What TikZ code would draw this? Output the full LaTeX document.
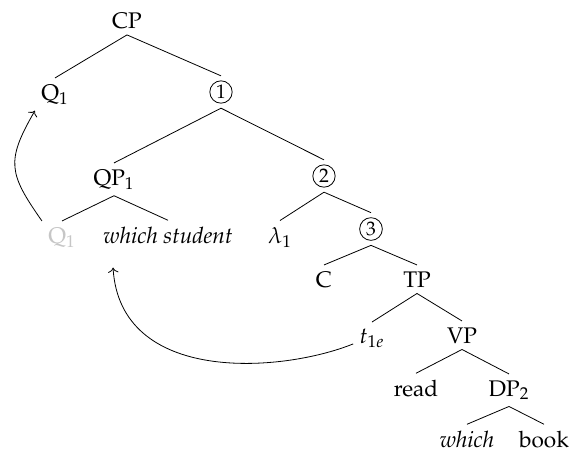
\documentclass[tikz,border=0pt]{standalone}
\usepackage[T1]{fontenc}
\usepackage{mathpazo}
\usetikzlibrary{arrows.meta,positioning}

\begin{document}
\begin{tikzpicture}[x=0.5pt, y=0.5pt,
        font=\fontsize{11.3}{13.5}\selectfont,
        cat/.style={anchor=base, inner sep=3pt},
        circ/.style={draw, circle, inner sep=1pt, outer sep=2.5pt, font=\fontsize{9.8}{11}\selectfont},
        ghost/.style={cat, text=gray!45},
        branch/.style={thin},
        move/.style={->, thin}
    ]
    \useasboundingbox (0,0) rectangle (573,-452);

    \node[cat] (cp) at (127,-28) {CP};
    \node[cat] (q1) at (55,-100) {Q$_1$};
    \node[circ] (one) at (221,-92) {1};
    \node[cat] (qp) at (114,-185) {QP$_1$};
    \node[circ] (two) at (324,-176) {2};
    \node[ghost] (q1low) at (62,-243) {Q$_1$};
    \node[cat] (ws) at (168,-243) {\textit{which student}};
    \node[cat] (lam) at (280,-243) {$\lambda_1$};
    \node[circ] (three) at (371,-229) {3};
    \node[cat] (c) at (324,-287) {C};
    \node[cat] (tp) at (417,-287) {TP};
    \node[cat] (t) at (372,-343) {$t_{1e}$};
    \node[cat] (vp) at (462,-343) {VP};
    \node[cat] (read) at (416,-396) {read};
    \node[cat] (dp) at (509,-396) {DP$_2$};
    \node[cat] (which) at (467,-447) {\textit{which}};
    \node[cat] (book) at (544,-447) {book};

    \draw[branch] (cp.south) -- (q1.north);
    \draw[branch] (cp.south) -- (one.north);
    \draw[branch] (one.south) -- (qp.north);
    \draw[branch] (one.south) -- (two.north);
    \draw[branch] (qp.south) -- (q1low.north);
    \draw[branch] (qp.south) -- (ws.north);
    \draw[branch] (two.south) -- (lam.north);
    \draw[branch] (two.south) -- (three.north);
    \draw[branch] (three.south) -- (c.north);
    \draw[branch] (three.south) -- (tp.north);
    \draw[branch] (tp.south) -- (t.north);
    \draw[branch] (tp.south) -- (vp.north);
    \draw[branch] (vp.south) -- (read.north);
    \draw[branch] (vp.south) -- (dp.north);
    \draw[branch] (dp.south) -- (which.north);
    \draw[branch] (dp.south) -- (book.north);

    % movement arrows
    \draw[move] (q1low.north west) to[out=125, in=-120, looseness=1.35] (q1.south west);
    \draw[move] ([yshift=-3pt]t.west) .. controls +(-72,-29) and +(7,-117) .. ([xshift=8pt, yshift=-9pt]ws.south west);
\end{tikzpicture}
\end{document}
